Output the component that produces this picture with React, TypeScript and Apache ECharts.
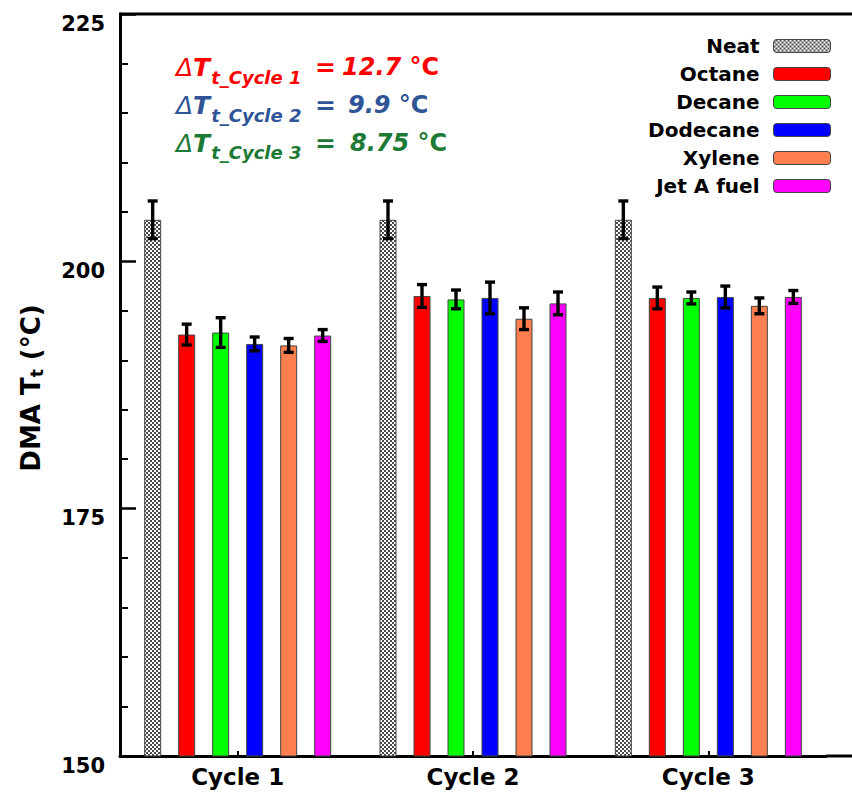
import React, { useEffect, useRef } from 'react';
import * as echarts from 'echarts';

const categories = ['Cycle 1', 'Cycle 2', 'Cycle 3'];
const seriesNames = ['Neat', 'Octane', 'Decane', 'Dodecane', 'Xylene', 'Jet A fuel'];
const neat = [204.2, 204.2, 204.2];
const octane = [192.6, 196.5, 196.3];
const decane = [192.8, 196.15, 196.3];
const dodecane = [191.65, 196.3, 196.4];
const xylene = [191.5, 194.2, 195.5];
const jetA = [192.5, 195.75, 196.4];
const neatErr = [1.9, 1.9, 1.9];
const octaneErr = [1.05, 1.15, 1.1];
const decaneErr = [1.5, 0.95, 0.6];
const dodecaneErr = [0.7, 1.6, 1.1];
const xyleneErr = [0.7, 1.1, 0.8];
const jetAErr = [0.6, 1.15, 0.65];
const yMin = 150;
const yMax = 225;
const yStep = 25;
const deltaCycles = ['Cycle 1', 'Cycle 2', 'Cycle 3'];
const deltaValues = ['12.7', '9.9', '8.75'];
const deltaColors = ['#ff0000', '#2f5597', '#1c7a35'];

const values = [neat, octane, decane, dodecane, xylene, jetA];
const errors = [neatErr, octaneErr, decaneErr, dodecaneErr, xyleneErr, jetAErr];
const barColors = ['pattern', '#ff0000', '#00ff00', '#0000ff', '#ff7f4f', '#ff00ff'];

const FONT = '"DejaVu Sans", "Liberation Sans", Arial, sans-serif';
const BAR_W = 17;
const BAR_STEP = 34;

export default function App() {
  const ref = useRef<HTMLDivElement>(null);
  useEffect(() => {
    if (!ref.current) return;
    const chart = echarts.init(ref.current, null, { renderer: 'svg' });

    const cv = document.createElement('canvas');
    cv.width = 4;
    cv.height = 4;
    const pc = cv.getContext('2d')!;
    pc.fillStyle = '#ffffff';
    pc.fillRect(0, 0, 4, 4);
    pc.fillStyle = '#4a4a4a';
    pc.fillRect(2, 0, 2, 2);
    pc.fillRect(0, 2, 2, 2);
    const pattern: any = { image: cv, repeat: 'repeat', imageWidth: 4, imageHeight: 4 };

    const mctx = document.createElement('canvas').getContext('2d')!;
    const tw = (t: string, style: string, weight: string, size: number) => {
      mctx.font = `${style} ${weight} ${size}px ${FONT}`;
      return mctx.measureText(t).width;
    };

    const barSeries: any[] = seriesNames.map((name, k) => ({
      name,
      type: 'bar',
      data: values[k],
      barWidth: BAR_W,
      barGap: '100%',
      itemStyle: {
        color: barColors[k] === 'pattern' ? pattern : barColors[k],
        borderColor: '#444',
        borderWidth: 1,
      },
      z: 2,
    }));

    const errSeries: any[] = seriesNames.map((name, k) => ({
      name: 'err_' + name,
      type: 'custom',
      z: 5,
      data: categories.map((c, i) => [i, values[k][i], errors[k][i]]),
      renderItem: (params: any, api: any) => {
        const cat = api.value(0);
        const v = api.value(1);
        const e = api.value(2);
        const off = (k - 2.5) * BAR_STEP;
        const top = api.coord([cat, v + e]);
        const bot = api.coord([cat, v - e]);
        const x = top[0] + off;
        const cap = 5;
        const st = { stroke: '#000', lineWidth: 3.4 };
        return {
          type: 'group',
          children: [
            { type: 'line', shape: { x1: x, y1: top[1], x2: x, y2: bot[1] }, style: st },
            { type: 'line', shape: { x1: x - cap, y1: top[1], x2: x + cap, y2: top[1] }, style: st },
            { type: 'line', shape: { x1: x - cap, y1: bot[1], x2: x + cap, y2: bot[1] }, style: st },
          ],
        };
      },
    }));

    const graphics: any[] = [];
    graphics.push({
      type: 'line',
      shape: { x1: 119, y1: 14, x2: 852, y2: 14 },
      style: { stroke: '#000', lineWidth: 3 },
      z: 10,
    });
    graphics.push({
      type: 'line',
      shape: { x1: 826, y1: 756, x2: 852, y2: 756 },
      style: { stroke: '#000', lineWidth: 3 },
      z: 10,
    });

    // annotations
    const baseY = [67, 105, 143];
    const subY = [77, 115, 152];
    const valX = [342, 348, 350];
    deltaCycles.forEach((cyc, i) => {
      const col = deltaColors[i];
      const x0 = 176;
      const wD = tw('Δ', 'italic', 'normal', 25);
      const wT = tw('T', 'italic', 'bold', 25);
      graphics.push({ type: 'text', x: x0, y: baseY[i], style: { text: 'Δ', fill: col, fontFamily: FONT, fontStyle: 'italic', fontWeight: 'normal', fontSize: 25, verticalAlign: 'middle', align: 'left' } });
      graphics.push({ type: 'text', x: x0 + wD, y: baseY[i], style: { text: 'T', fill: col, fontFamily: FONT, fontStyle: 'italic', fontWeight: 'bold', fontSize: 25, verticalAlign: 'middle', align: 'left' } });
      graphics.push({ type: 'text', x: x0 + wD + wT + 1, y: subY[i], style: { text: 't_' + cyc, fill: col, fontFamily: FONT, fontStyle: 'italic', fontWeight: 'bold', fontSize: 18, verticalAlign: 'middle', align: 'left' } });
      graphics.push({ type: 'text', x: 315, y: baseY[i], style: { text: '=', fill: col, fontFamily: FONT, fontWeight: 'bold', fontSize: 25, verticalAlign: 'middle', align: 'left' } });
      const wV = tw(deltaValues[i] + ' ', 'italic', 'bold', 24);
      graphics.push({ type: 'text', x: valX[i], y: baseY[i], style: { text: deltaValues[i], fill: col, fontFamily: FONT, fontStyle: 'italic', fontWeight: 'bold', fontSize: 24, verticalAlign: 'middle', align: 'left' } });
      graphics.push({ type: 'text', x: valX[i] + wV, y: baseY[i], style: { text: '°C', fill: col, fontFamily: FONT, fontWeight: 'bold', fontSize: 24, verticalAlign: 'middle', align: 'left' } });
    });

    // y axis name
    const w1 = tw('DMA T', 'normal', 'bold', 26);
    const w2 = tw('t', 'normal', 'bold', 17);
    const w3 = tw(' (°C)', 'normal', 'bold', 26);
    const tot = w1 + w2 + w3;
    graphics.push({
      type: 'group',
      x: 31,
      y: 388,
      rotation: Math.PI / 2,
      children: [
        { type: 'text', x: -tot / 2, y: 0, style: { text: 'DMA T', fill: '#000', fontFamily: FONT, fontWeight: 'bold', fontSize: 26, verticalAlign: 'middle', align: 'left' } },
        { type: 'text', x: -tot / 2 + w1, y: 6, style: { text: 't', fill: '#000', fontFamily: FONT, fontWeight: 'bold', fontSize: 17, verticalAlign: 'middle', align: 'left' } },
        { type: 'text', x: -tot / 2 + w1 + w2, y: 0, style: { text: ' (°C)', fill: '#000', fontFamily: FONT, fontWeight: 'bold', fontSize: 26, verticalAlign: 'middle', align: 'left' } },
      ],
    });

    chart.setOption({
      animation: false,
      backgroundColor: '#ffffff',
      grid: { left: 120, right: 26, top: 14, bottom: 37, containLabel: false },
      legend: {
        data: seriesNames,
        orient: 'vertical',
        align: 'right',
        right: 21,
        top: 36,
        padding: 0,
        itemWidth: 57,
        itemHeight: 13,
        itemGap: 8,
        selectedMode: false,
        itemStyle: { borderColor: '#444', borderWidth: 1 },
        textStyle: { fontFamily: FONT, fontWeight: 'bold', fontSize: 20, color: '#000', padding: [0, 9, 0, 0] },
      },
      xAxis: {
        type: 'category',
        data: categories,
        axisLine: { lineStyle: { color: '#000', width: 3 } },
        axisTick: { show: true, alignWithLabel: true, inside: true, length: 5, lineStyle: { color: '#000', width: 2 } },
        axisLabel: { margin: 9, fontFamily: FONT, fontWeight: 'bold', fontSize: 23, color: '#000' },
        splitLine: { show: false },
      },
      yAxis: {
        type: 'value',
        min: yMin,
        max: yMax,
        interval: yStep,
        axisLine: { show: true, lineStyle: { color: '#000', width: 3 } },
        axisTick: { show: true, inside: true, length: 16, lineStyle: { color: '#000', width: 2.5 } },
        minorTick: { show: true, splitNumber: 5, length: 8, lineStyle: { color: '#000', width: 2 } },
        axisLabel: { margin: 15, fontFamily: FONT, fontWeight: 'bold', fontSize: 21, color: '#000', verticalAlign: 'top', lineHeight: 19 },
        splitLine: { show: false },
        minorSplitLine: { show: false },
      },
      graphic: graphics,
      series: [...barSeries, ...errSeries],
    });

    return () => chart.dispose();
  }, []);
  return <div ref={ref} style={{ width: 852, height: 793, position: 'absolute', left: 0, top: 0 }} />;
}
